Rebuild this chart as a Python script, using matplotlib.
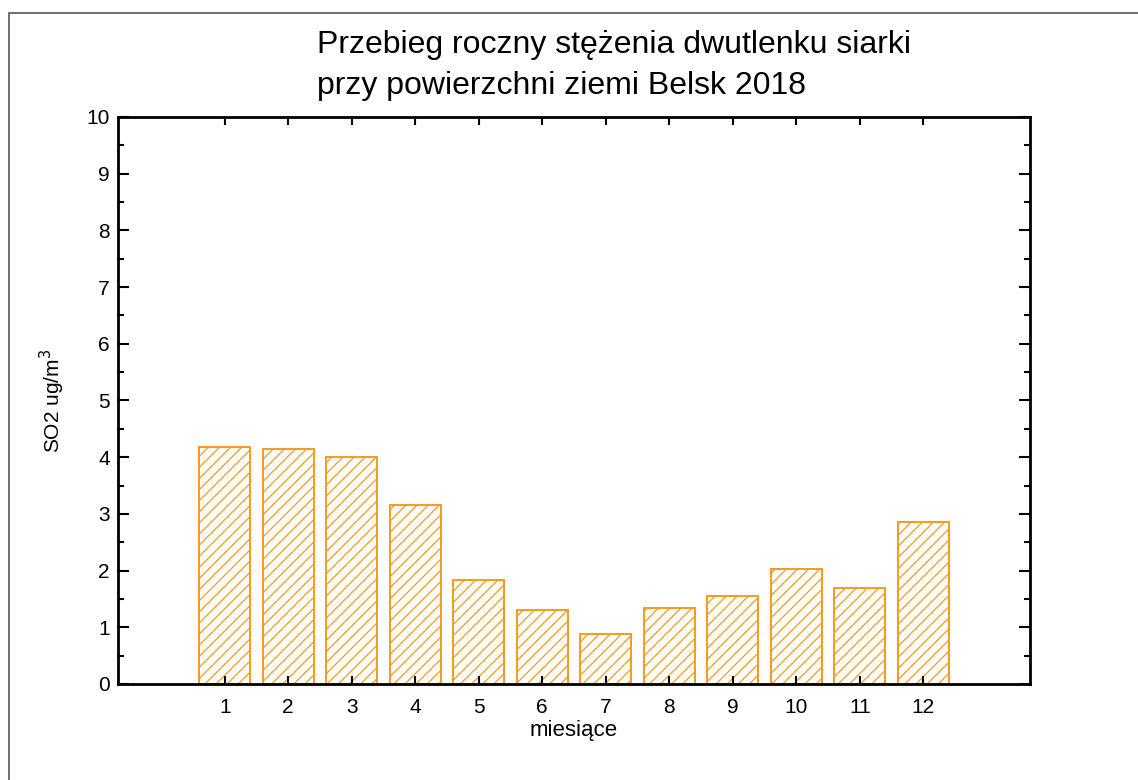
import numpy as np
import matplotlib.pyplot as plt
from matplotlib.patches import Rectangle

plt.rcParams['font.family'] = ['Liberation Sans', 'DejaVu Sans']
plt.rcParams['hatch.linewidth'] = 0.9
plt.rcParams['hatch.color'] = '#F89A1C'

# dane: średnie miesięczne stężenie SO2
miesiace = np.arange(1, 13)
so2 = [4.18, 4.14, 4.00, 3.16, 1.83, 1.30, 0.88, 1.34, 1.55, 2.03, 1.69, 2.86]
yticks = np.arange(0, 11, 1)

fig = plt.figure(figsize=(11.38, 7.8), dpi=100)
ax = fig.add_axes([0.1037, 0.1231, 0.8014, 0.7269])

ax.bar(miesiace, so2, width=0.8, facecolor='white', edgecolor='#F89A1C',
       linewidth=1.4, hatch='///')

ax.set_xlim(-0.68, 13.68)
ax.set_ylim(0, 10)
ax.set_xticks(miesiace)
ax.set_yticks(yticks)
ax.set_yticks(np.arange(0.5, 10, 1), minor=True)

for s in ax.spines.values():
    s.set_linewidth(2)
ax.tick_params(which='both', direction='in', top=True, right=True,
               labelsize=15, width=1.5)
ax.tick_params(axis='y', which='major', length=8, pad=6)
ax.tick_params(axis='y', which='minor', length=4)
ax.tick_params(axis='x', which='major', length=6, pad=10)

ax.set_xlabel('miesiące', fontsize=16, labelpad=2)
ax.set_ylabel('SO2 ug/m$^3$', fontsize=15, labelpad=14)

fig.text(317 / 1138, 1 - 45 / 780, 'Przebieg roczny stężenia dwutlenku siarki',
         fontsize=23, ha='left', va='center')
fig.text(317 / 1138, 1 - 86 / 780, 'przy powierzchni ziemi Belsk 2018',
         fontsize=23, ha='left', va='center')

# ramka wokół całego rysunku
fig.patches.append(Rectangle((9 / 1138, -0.01), 1.1, 1 - 13 / 780 + 0.01,
                             transform=fig.transFigure, fill=False,
                             edgecolor='#555555', linewidth=1.2))

fig.savefig('out.png', dpi=100)
